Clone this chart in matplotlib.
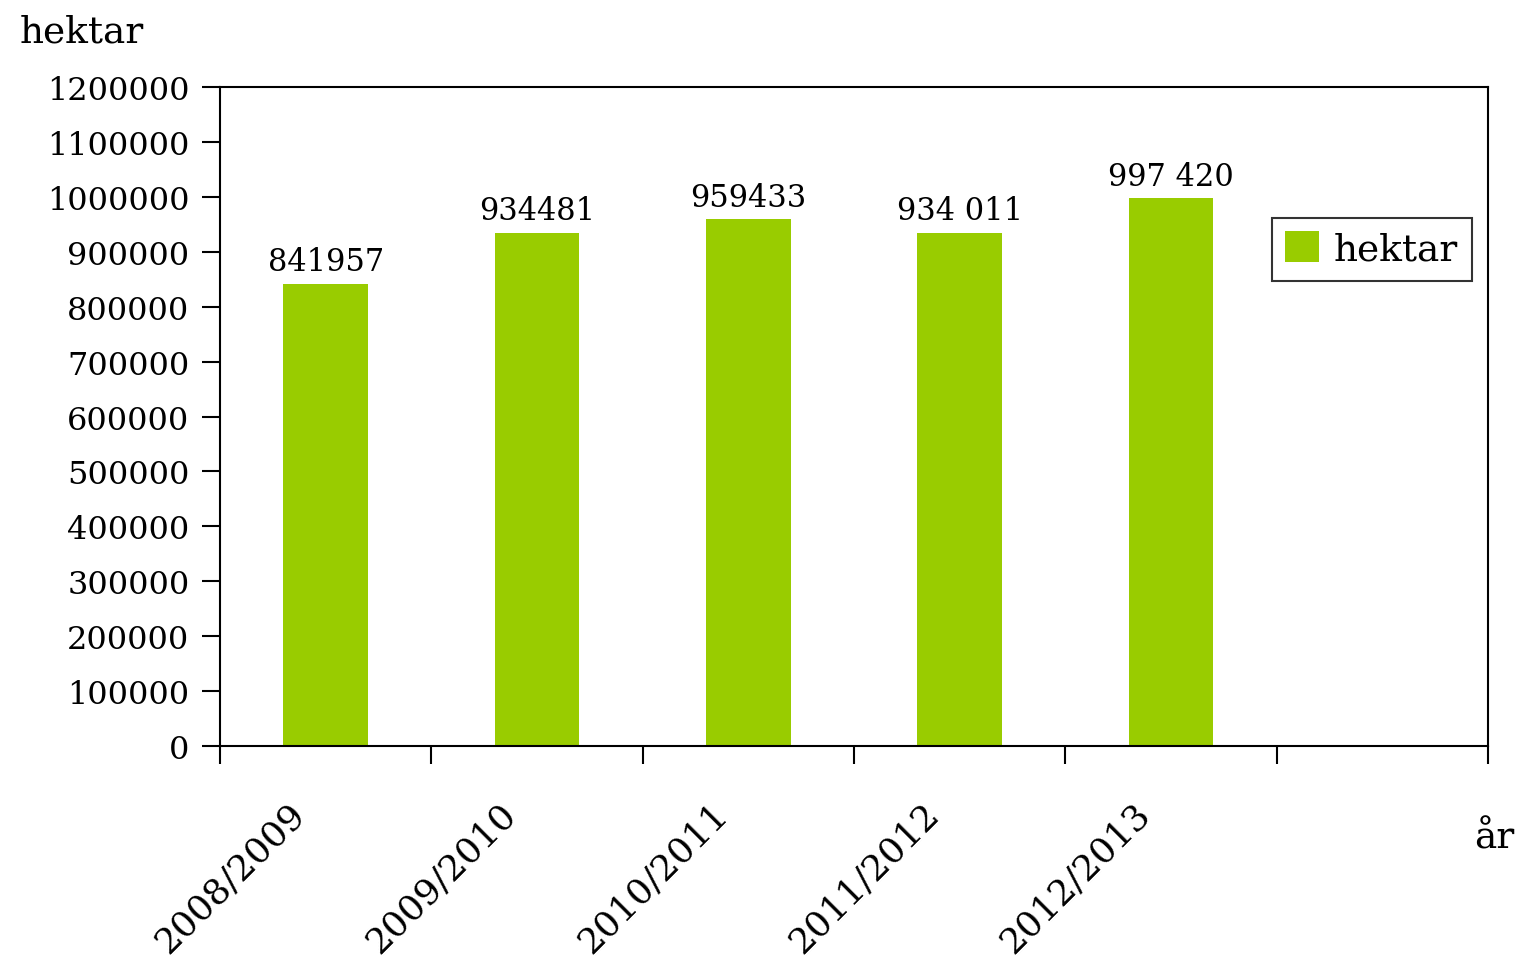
import matplotlib

matplotlib.use("Agg")
import matplotlib.pyplot as plt

seasons = ["2008/2009", "2009/2010", "2010/2011", "2011/2012", "2012/2013"]
hectares = [841957, 934481, 959433, 934011, 997420]
value_labels = ["841957", "934481", "959433", "934 011", "997 420"]
n_slots = 6

plt.rcParams["font.family"] = ["DejaVu Serif"]

fig = plt.figure(figsize=(15.17, 9.62), dpi=100)
ax = fig.add_axes([0.145, 0.2235, 0.836, 0.685])

centers = [i + 0.5 for i in range(len(seasons))]
bars = ax.bar(centers, hectares, width=0.4, color="#99CC00", label="hektar", zorder=2)
for bar, text in zip(bars, value_labels):
    ax.text(bar.get_x() + bar.get_width() / 2, bar.get_height() + 12000, text,
            ha="center", va="bottom", fontsize=22)

ax.set_xlim(0, n_slots)
ax.set_ylim(0, 1200000)
ax.set_yticks(range(0, 1200001, 100000))
ax.set_yticklabels([str(v) for v in range(0, 1200001, 100000)], fontsize=23)
ax.set_xticks(range(n_slots + 1))
ax.set_xticklabels([])
for c, s in zip(centers, seasons):
    ax.text(c - 0.18, -0.075, s, transform=ax.get_xaxis_transform(), rotation=45,
            ha="right", va="top", rotation_mode="anchor", fontsize=26)

ax.tick_params(axis="both", direction="out", length=13, width=1.5)
ax.tick_params(axis="y", pad=9)
for side in ax.spines.values():
    side.set_linewidth(1.5)

fig.text(0.013, 0.985, "hektar", fontsize=27, ha="left", va="top")
fig.text(0.998, 0.128, "år", fontsize=27, ha="right", va="center")

leg = ax.legend(loc="upper left", bbox_to_anchor=(0.815, 0.83), fontsize=27,
                frameon=True, fancybox=False, edgecolor="black", borderpad=0.35,
                handlelength=0.9, handleheight=0.9, handletextpad=0.4)
leg.get_frame().set_linewidth(1.5)

fig.savefig("out.png", dpi=100)
